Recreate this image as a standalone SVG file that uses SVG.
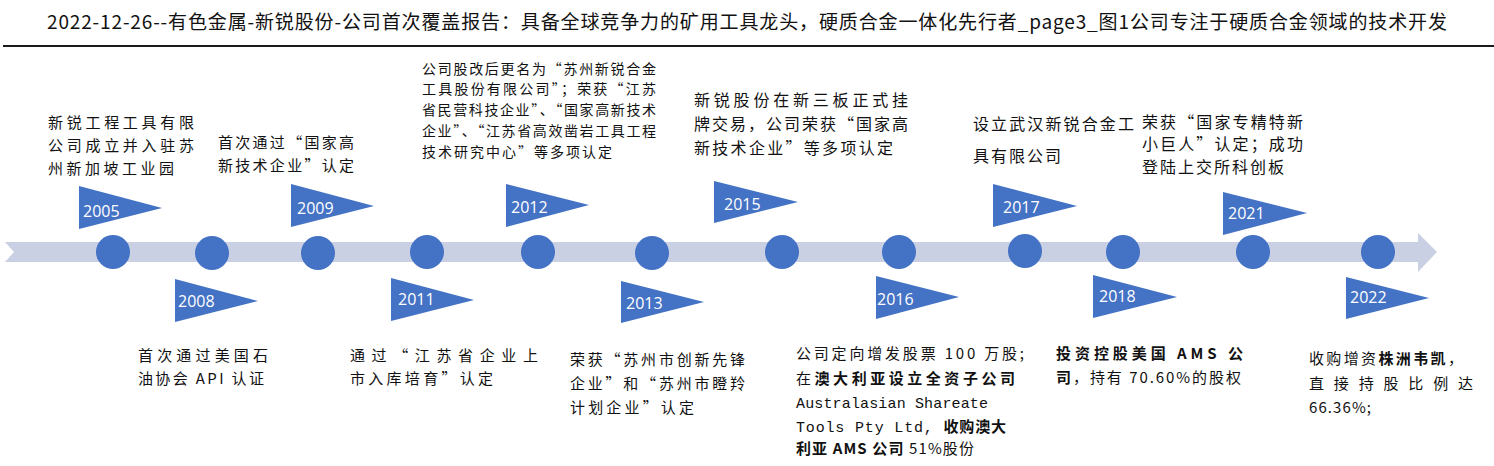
<svg xmlns="http://www.w3.org/2000/svg" width="1494" height="466" viewBox="0 0 1494 466">
<style>
.t{font-family:"Noto Sans CJK SC","Noto Sans",sans-serif;fill:#111}
.s14{font-size:14px}
.s15{font-size:15px}
.s16{font-size:16px}
.b{font-weight:700}
.m{font-family:"Liberation Mono","Noto Sans CJK SC",monospace}
.yr{font-family:"Open Sans","Liberation Sans",sans-serif;font-size:16px;fill:#fff}
.flag,.dot{fill:#4472C4}
.band{fill:#C9D0E4}
</style>
<rect width="1494" height="466" fill="#fff"/>
<g id="title">
<text class="t" x="47" y="29" font-size="19" textLength="1400" lengthAdjust="spacing">2022-12-26--有色金属-新锐股份-公司首次覆盖报告：具备全球竞争力的矿用工具龙头，硬质合金一体化先行者_page3_图1公司专注于硬质合金领域的技术开发</text>
<line x1="3" y1="46" x2="1494" y2="46" stroke="#1a1a1a" stroke-width="2"/>
</g>
<g id="connectors">
<polygon class="band" points="5,242 1418,242 1418,233 1437,252 1418,272 1418,262 5,262 14,252"/>
</g>
<g id="e2005">
<circle class="dot" cx="113" cy="252" r="17"/>
<polygon class="flag" points="79,186 162,208 79,229"/>
<text class="yr" x="83" y="217">2005</text>
<text class="t s15" x="48" y="127.5" textLength="146" lengthAdjust="spacing">新锐工程工具有限</text>
<text class="t s15" x="48" y="150.5" textLength="146" lengthAdjust="spacing">公司成立并入驻苏</text>
<text class="t s15" x="48" y="173.5" textLength="126" lengthAdjust="spacing">州新加坡工业园</text>
</g>
<g id="e2008">
<circle class="dot" cx="212" cy="253" r="17"/>
<polygon class="flag" points="175,279 258,301 175,322"/>
<text class="yr" x="178" y="307">2008</text>
<text class="t s15" x="138" y="361" textLength="130" lengthAdjust="spacing">首次通过美国石</text>
<text class="t s15" x="138" y="384" textLength="126" lengthAdjust="spacing">油协会 API 认证</text>
</g>
<g id="e2009">
<circle class="dot" cx="318" cy="253" r="17"/>
<polygon class="flag" points="291,184 374,206 291,227"/>
<text class="yr" x="297" y="214">2009</text>
<text class="t s15" x="218" y="147.5" textLength="136" lengthAdjust="spacing">首次通过“国家高</text>
<text class="t s15" x="218" y="170.5" textLength="136" lengthAdjust="spacing">新技术企业”认定</text>
</g>
<g id="e2011">
<circle class="dot" cx="427" cy="252" r="17"/>
<polygon class="flag" points="391,278 474,300 391,321"/>
<text class="yr" x="398" y="305">2011</text>
<text class="t s15" x="350" y="361" textLength="188" lengthAdjust="spacing">通过“江苏省企业上</text>
<text class="t s15" x="350" y="384" textLength="143" lengthAdjust="spacing">市入库培育”认定</text>
</g>
<g id="e2012">
<circle class="dot" cx="538" cy="252" r="17"/>
<polygon class="flag" points="506,184 589,205 506,227"/>
<text class="yr" x="511" y="213">2012</text>
<text class="t s14" x="422" y="74" textLength="234" lengthAdjust="spacing">公司股改后更名为“苏州新锐合金</text>
<text class="t s14" x="422" y="94" textLength="234" lengthAdjust="spacing">工具股份有限公司”；荣获“江苏</text>
<text class="t s14" x="422" y="115" textLength="234" lengthAdjust="spacing">省民营科技企业”、“国家高新技术</text>
<text class="t s14" x="422" y="136" textLength="234" lengthAdjust="spacing">企业”、“江苏省高效凿岩工具工程</text>
<text class="t s14" x="422" y="157" textLength="190" lengthAdjust="spacing">技术研究中心”等多项认定</text>
</g>
<g id="e2013">
<circle class="dot" cx="652" cy="253" r="17"/>
<polygon class="flag" points="621,281 704,302 621,323"/>
<text class="yr" x="626" y="309">2013</text>
<text class="t s15" x="570" y="365" textLength="175" lengthAdjust="spacing">荣获“苏州市创新先锋</text>
<text class="t s15" x="570" y="389" textLength="175" lengthAdjust="spacing">企业”和“苏州市瞪羚</text>
<text class="t s15" x="570" y="413" textLength="124" lengthAdjust="spacing">计划企业”认定</text>
</g>
<g id="e2015">
<circle class="dot" cx="782" cy="252" r="17"/>
<polygon class="flag" points="714,181 798,202 714,223"/>
<text class="yr" x="724" y="210">2015</text>
<text class="t s16" x="694" y="106" textLength="214" lengthAdjust="spacing">新锐股份在新三板正式挂</text>
<text class="t s16" x="694" y="130" textLength="214" lengthAdjust="spacing">牌交易，公司荣获“国家高</text>
<text class="t s16" x="694" y="154" textLength="199" lengthAdjust="spacing">新技术企业”等多项认定</text>
</g>
<g id="e2016">
<circle class="dot" cx="899" cy="252" r="17"/>
<polygon class="flag" points="876,276 959,297 876,319"/>
<text class="yr" x="877" y="305">2016</text>
<text class="t s15" x="796" y="359" textLength="228" lengthAdjust="spacing">公司定向增发股票 100 万股;</text>
<text class="t s15" x="796" y="384" textLength="219" lengthAdjust="spacing">在<tspan class="b">澳大利亚设立全资子公司</tspan></text>
<text class="t s15 m" x="796" y="408" textLength="192" lengthAdjust="spacing">Australasian Shareate</text>
<text class="t s15" x="796" y="432" textLength="210" lengthAdjust="spacing"><tspan class="m">Tools Pty Ltd, </tspan><tspan class="b">收购澳大</tspan></text>
<text class="t s15" x="796" y="454" textLength="178" lengthAdjust="spacing"><tspan class="b">利亚 AMS 公司</tspan> 51%股份</text>
</g>
<g id="e2017">
<circle class="dot" cx="1025" cy="251" r="17"/>
<polygon class="flag" points="993,184 1077,206 993,227"/>
<text class="yr" x="1003" y="213">2017</text>
<text class="t s16" x="973" y="130" textLength="161" lengthAdjust="spacing">设立武汉新锐合金工</text>
<text class="t s16" x="973" y="162" textLength="88" lengthAdjust="spacing">具有限公司</text>
</g>
<g id="e2018">
<circle class="dot" cx="1123" cy="252" r="17"/>
<polygon class="flag" points="1093,275 1177,297 1093,318"/>
<text class="yr" x="1099" y="302">2018</text>
<text class="t s15 b" x="1056" y="359" textLength="187" lengthAdjust="spacing">投资控股美国 AMS 公</text>
<text class="t s15" x="1056" y="383" textLength="185" lengthAdjust="spacing"><tspan class="b">司</tspan>，持有 70.60%的股权</text>
</g>
<g id="e2021">
<circle class="dot" cx="1253" cy="252" r="17"/>
<polygon class="flag" points="1223,192 1307,213 1223,235"/>
<text class="yr" x="1228" y="219">2021</text>
<text class="t s16" x="1142" y="128" textLength="161" lengthAdjust="spacing">荣获“国家专精特新</text>
<text class="t s16" x="1142" y="150" textLength="161" lengthAdjust="spacing">小巨人”认定；成功</text>
<text class="t s16" x="1142" y="173" textLength="142" lengthAdjust="spacing">登陆上交所科创板</text>
</g>
<g id="e2022">
<circle class="dot" cx="1378" cy="252" r="17"/>
<polygon class="flag" points="1346,277 1429,298 1346,319"/>
<text class="yr" x="1350" y="303">2022</text>
<text class="t s15" x="1309" y="364" textLength="154" lengthAdjust="spacing">收购增资<tspan class="b">株洲韦凯</tspan>，</text>
<text class="t s15" x="1309" y="389" textLength="164" lengthAdjust="spacing">直接持股比例达</text>
<text class="t s15" x="1309" y="413" textLength="62" lengthAdjust="spacing">66.36%;</text>
</g>
</svg>
